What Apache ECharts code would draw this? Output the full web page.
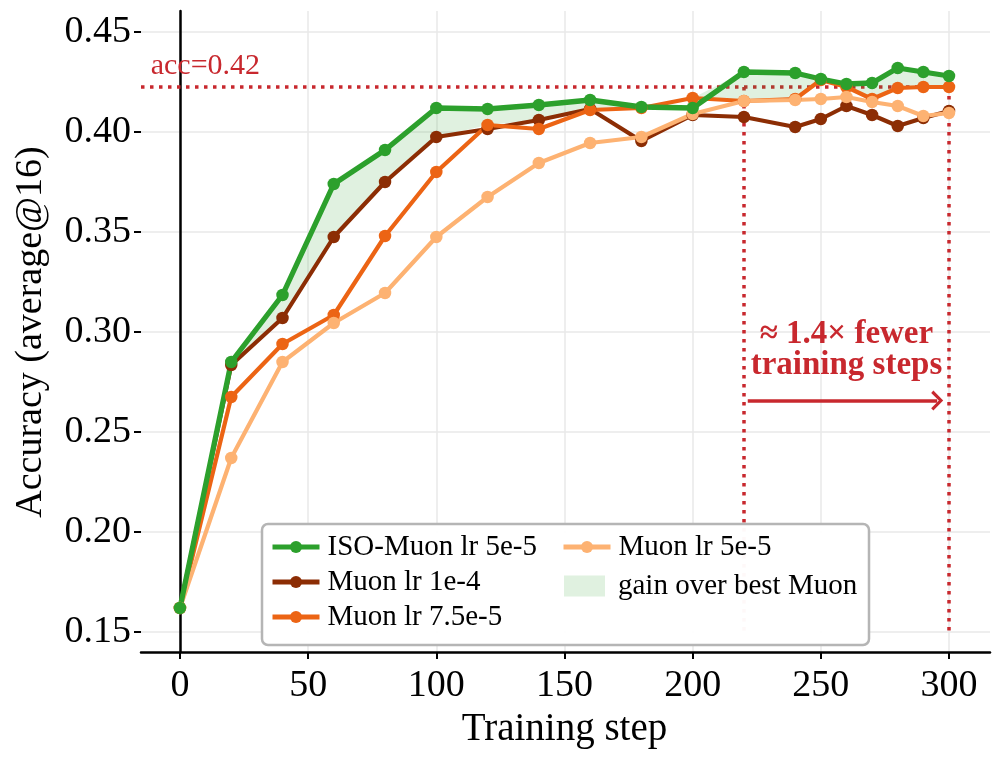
<!DOCTYPE html>
<html>
<head>
<meta charset="utf-8">
<script src="https://cdn.jsdelivr.net/npm/echarts@6/dist/echarts.min.js"></script>
<style>
  html, body { margin: 0; padding: 0; background: #fff; }
  #chart { width: 1000px; height: 760px; }
</style>
</head>
<body>
<div id="chart"></div>
<script>
  // training steps (shared by all runs)
  const steps = [0, 20, 40, 60, 80, 100, 120, 140, 160, 180, 200, 220, 240, 250, 260, 270, 280, 290, 300];

  // accuracy (average@16)
  const isoMuon5e5 = [0.162, 0.285, 0.3185, 0.374, 0.391, 0.412, 0.4115, 0.4135, 0.416, 0.4125, 0.412, 0.43, 0.4295, 0.4265, 0.424, 0.4245, 0.432, 0.430, 0.428];
  const muon1e4 = [0.162, 0.2835, 0.307, 0.3475, 0.375, 0.3975, 0.4015, 0.406, 0.4115, 0.3955, 0.4085, 0.4075, 0.4025, 0.4065, 0.413, 0.4085, 0.403, 0.407, 0.4105];
  const muon75e5 = [0.162, 0.2675, 0.294, 0.3085, 0.348, 0.38, 0.4035, 0.4015, 0.411, 0.412, 0.417, 0.4155, 0.4165, 0.426, 0.4225, 0.4165, 0.422, 0.4225, 0.4225];
  const muon5e5 = [0.162, 0.237, 0.285, 0.3045, 0.3195, 0.3475, 0.3675, 0.3845, 0.3945, 0.3975, 0.409, 0.4155, 0.416, 0.4165, 0.4175, 0.415, 0.413, 0.408, 0.4095];

  const xTicks = [0, 50, 100, 150, 200, 250, 300];
  const yTicks = [0.15, 0.20, 0.25, 0.30, 0.35, 0.40, 0.45];

  // annotation values
  const accTarget = 0.4225;
  const stepIso = 220;
  const stepMuon = 300;
  const arrowAcc = 0.2657;

  const FONT = "'Liberation Serif', 'DejaVu Serif', serif";
  const RED = '#c8282e';
  const C_ISO = '#2ca02c', C_1E4 = '#8c2d04', C_75 = '#ec6414', C_5E5 = '#fdb272';
  const FILL = 'rgba(44,160,44,0.15)';

  // plot box (px) and data limits
  const L = 141, T = 11, PW = 849, PH = 641;
  const xMin = -15.2, xMax = 316, yMin = 0.14, yMax = 0.4605;
  const px = v => L + (v - xMin) / (xMax - xMin) * PW;
  const py = v => T + (yMax - v) / (yMax - yMin) * PH;

  const pairs = arr => steps.map((s, i) => [s, arr[i]]);
  // best Muon run at each step; the band is filled where ISO-Muon is above it
  const best = steps.map((s, i) => Math.max(muon1e4[i], muon75e5[i], muon5e5[i]));

  const dotted = { color: RED, width: 3.5, type: [3.5, 5.5], cap: 'butt' };

  function runSeries(name, color, arr, width) {
    return {
      name: name, type: 'line', xAxisIndex: 0, yAxisIndex: 0,
      data: pairs(arr),
      symbol: 'circle', symbolSize: 12.5,
      lineStyle: { color: color, width: width },
      itemStyle: { color: color },
      z: 3
    };
  }

  const legendText = { fontSize: 29, lineHeight: 30, color: '#000', fontFamily: FONT, padding: [0, 0, 0, 3] };
  const legendBase = { orient: 'vertical', padding: 0, itemWidth: 47, itemHeight: 15, itemGap: 5, lineStyle: { width: 5 }, z: 5 };

  const chart = echarts.init(document.getElementById('chart'));
  chart.setOption({
    animation: false,
    textStyle: { fontFamily: FONT },
    grid: [
      { left: L, top: T, width: PW, height: PH },
      // x ticks grid: spans exactly [0, 300]
      { left: px(0), top: T, width: px(300) - px(0), height: PH },
      // y ticks grid: spans exactly [0.15, 0.45]
      { left: L, top: py(0.45), width: PW, height: py(0.15) - py(0.45) }
    ],
    xAxis: [
      {
        gridIndex: 0, type: 'value', min: xMin, max: xMax,
        axisLine: { lineStyle: { color: '#000', width: 2.5 } },
        axisTick: { show: false }, axisLabel: { show: false }, splitLine: { show: false }
      },
      {
        gridIndex: 1, type: 'value', min: xTicks[0], max: xTicks[xTicks.length - 1], interval: 50,
        axisLine: { show: false },
        axisTick: { show: true, length: 7, lineStyle: { color: '#000', width: 2 } },
        axisLabel: { fontSize: 38, color: '#000', margin: 15, fontFamily: FONT },
        splitLine: { show: true, lineStyle: { color: '#e8e8e8', width: 1.5 } },
        name: 'Training step', nameLocation: 'middle', nameGap: 57,
        nameTextStyle: { fontSize: 39, color: '#000', fontFamily: FONT }
      },
      { gridIndex: 2, type: 'value', show: false, min: 0, max: 1 }
    ],
    yAxis: [
      {
        gridIndex: 0, type: 'value', min: yMin, max: yMax,
        axisLine: { show: true, lineStyle: { color: '#000', width: 2.5 } },
        axisTick: { show: false }, axisLabel: { show: false }, splitLine: { show: false }
      },
      { gridIndex: 1, type: 'value', show: false, min: 0, max: 1 },
      {
        gridIndex: 2, type: 'value', min: yTicks[0], max: yTicks[yTicks.length - 1], interval: 0.05,
        axisLine: { show: false },
        axisTick: { show: true, length: 7, lineStyle: { color: '#000', width: 2 } },
        axisLabel: { fontSize: 38, color: '#000', margin: 10, fontFamily: FONT, formatter: v => v.toFixed(2) },
        splitLine: { show: true, lineStyle: { color: '#e8e8e8', width: 1.5 } },
        name: 'Accuracy (average@16)', nameLocation: 'middle', nameGap: 91,
        nameTextStyle: { fontSize: 38, color: '#000', fontFamily: FONT }
      }
    ],
    legend: [
      Object.assign({}, legendBase, {
        data: ['ISO-Muon lr 5e-5', 'Muon lr 1e-4', 'Muon lr 7.5e-5'],
        left: 270, top: 532, textStyle: legendText
      }),
      Object.assign({}, legendBase, {
        data: ['Muon lr 5e-5'],
        left: 561, top: 532, textStyle: legendText
      }),
      Object.assign({}, legendBase, {
        data: [{ name: 'gain over best Muon', icon: 'rect', itemStyle: { color: FILL, borderWidth: 0 } }],
        left: 564, top: 571, itemWidth: 41, itemHeight: 21,
        textStyle: Object.assign({}, legendText, { padding: [0, 0, 0, 8] })
      })
    ],
    graphic: [{
      type: 'rect', z: 4,
      shape: { x: 262, y: 524, width: 607, height: 121, r: 6 },
      style: { fill: 'rgba(255,255,255,0.97)', stroke: '#b5b5b5', lineWidth: 2.5 }
    }],
    series: [
      {
        name: 'gain over best Muon', type: 'custom', xAxisIndex: 0, yAxisIndex: 0,
        data: [[steps[0], best[0]]], silent: true, z: 1,
        itemStyle: { color: FILL },
        renderItem: function (params, api) {
          const top = steps.map((s, i) => api.coord([s, Math.max(isoMuon5e5[i], best[i])]));
          const bottom = steps.map((s, i) => api.coord([s, best[i]])).reverse();
          return {
            type: 'polygon',
            shape: { points: top.concat(bottom) },
            style: { fill: FILL }
          };
        }
      },
      runSeries('Muon lr 1e-4', C_1E4, muon1e4, 4.2),
      runSeries('Muon lr 7.5e-5', C_75, muon75e5, 4.2),
      runSeries('Muon lr 5e-5', C_5E5, muon5e5, 4.2),
      runSeries('ISO-Muon lr 5e-5', C_ISO, isoMuon5e5, 5.3),
      {
        name: 'annotations', type: 'line', xAxisIndex: 0, yAxisIndex: 0, data: [],
        markLine: {
          silent: true, z: 1, symbol: ['none', 'none'], label: { show: false },
          data: [
            [{ coord: [xMin, accTarget], lineStyle: dotted }, { coord: [stepMuon, accTarget] }],
            [{ coord: [stepIso, accTarget], lineStyle: dotted }, { coord: [stepIso, yTicks[0]] }],
            [{ coord: [stepMuon, accTarget], lineStyle: dotted }, { coord: [stepMuon, yTicks[0]] }],
            [
              { coord: [stepIso + 1.5, arrowAcc], lineStyle: { color: RED, width: 3.6, type: 'solid' },
                symbol: 'none' },
              { coord: [stepMuon - 4.6, arrowAcc],
                symbol: 'path://M0,9 L10,0 L20,9 L17.6,11 L10,4 L2.4,11 Z', symbolSize: [20, 12] }
            ]
          ]
        },
        markPoint: {
          silent: true, symbol: 'circle', symbolSize: 0, z: 6,
          data: [
            {
              coord: [(stepIso + stepMuon) / 2, 0.2908],
              label: {
                show: true, position: 'inside', formatter: '\u2248 1.4\u00d7 fewer\ntraining steps',
                color: RED, fontSize: 33, fontWeight: 'bold', lineHeight: 31, align: 'center',
                fontFamily: FONT
              }
            },
            {
              coord: [xMin + 3.8, accTarget],
              label: {
                show: true, position: [0, 0], align: 'left', verticalAlign: 'bottom', offset: [0, -6],
                formatter: 'acc=0.42', color: RED, fontSize: 30, fontFamily: FONT
              }
            }
          ]
        }
      }
    ]
  });
</script>
</body>
</html>
